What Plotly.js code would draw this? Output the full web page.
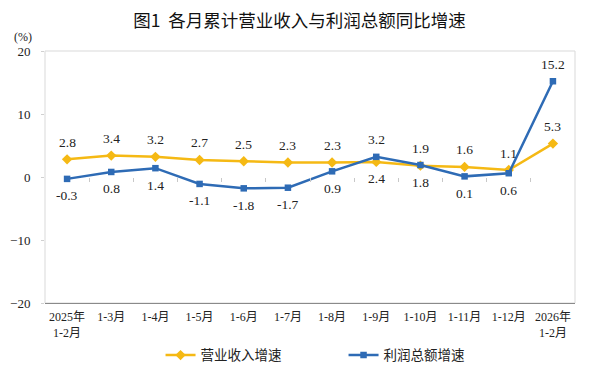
<!DOCTYPE html>
<html><head><meta charset="utf-8">
<script src="https://cdn.plot.ly/plotly-3.0.1.min.js"></script>
<style>body{margin:0;background:#fff}#c{width:593px;height:378px}</style>
</head><body><div id="c"></div>
<script>
var categories = ["2025年<br>1-2月","1-3月","1-4月","1-5月","1-6月","1-7月","1-8月","1-9月","1-10月","1-11月","1-12月","2026年<br>1-2月"];
var revenue = [2.8,3.4,3.2,2.7,2.5,2.3,2.3,2.4,1.8,1.6,1.1,5.3];
var profit = [-0.3,0.8,1.4,-1.1,-1.8,-1.7,0.9,3.2,1.9,0.1,0.6,15.2];
var revenueLabelSide = [1,1,1,1,1,1,1,-1,-1,1,1,1];
var profitLabelSide = [-1,-1,-1,-1,-1,-1,-1,1,1,-1,-1,1];
var yTicks = [20,10,0,-10,-20];

var serif = "Liberation Serif, 'Noto Sans CJK SC', serif";
var cjk = "'Noto Sans CJK SC', sans-serif";
var yellow = "#F5B914", blue = "#2E6BB5";
var idx = categories.map(function(_, i){ return i; });
var boundaries = idx.slice(0, idx.length - 1).map(function(i){ return i + 0.5; });

var traces = [
  {x: idx, y: revenue, name: "营业收入增速", type: "scatter", mode: "lines+markers",
   line: {color: yellow, width: 2.5}, marker: {symbol: "diamond", size: 8, color: yellow}},
  {x: idx, y: profit, name: "利润总额增速", type: "scatter", mode: "lines+markers",
   line: {color: blue, width: 2.5}, marker: {symbol: "square", size: 6.5, color: blue}},
  // invisible trace so xaxis2 exists for the category boundary ticks on the zero line
  {x: boundaries, y: boundaries.map(function(){ return 0; }), xaxis: "x2", yaxis: "y",
   type: "scatter", mode: "markers", marker: {opacity: 0}, showlegend: false, hoverinfo: "skip"}
];

var annotations = [];
function addLabels(vals, sides){
  vals.forEach(function(v, i){
    annotations.push({x: i, y: v, xref: "x", yref: "y", text: v.toFixed(1), showarrow: false,
      xanchor: "center", yanchor: "middle",
      yshift: sides[i] * 17, font: {family: serif, size: 13.5, color: "#222"}});
  });
}
addLabels(revenue, revenueLabelSide);
addLabels(profit, profitLabelSide);
annotations.push({x: -0.041, y: 1.055, xref: "paper", yref: "paper", xanchor: "center", yanchor: "middle",
  text: "(%)", showarrow: false, font: {family: serif, size: 12, color: "#222"}});

var layout = {
  width: 593, height: 378,
  margin: {l: 45, r: 18, t: 51, b: 75},
  paper_bgcolor: "#fff", plot_bgcolor: "#fff",
  title: {text: "图1  各月累计营业收入与利润总额同比增速", x: 0.505, xanchor: "center", y: 0.945, yanchor: "middle",
    font: {family: cjk, size: 17.5, color: "#111"}},
  xaxis: {range: [-0.5, 11.5], tickvals: idx, ticktext: categories, showgrid: false, zeroline: false,
    showline: true, linecolor: "#8a8a8a", linewidth: 1, ticks: "", ticklabelstandoff: 3,
    tickfont: {family: serif, size: 12, color: "#222"}},
  xaxis2: {range: [-0.5, 11.5], overlaying: "x", anchor: "free", position: 0.5, showgrid: false, zeroline: false,
    showline: false, ticks: "outside", ticklen: 4, tickcolor: "#c8c8c8", tickvals: boundaries,
    showticklabels: false},
  yaxis: {range: [-20, 20], tickvals: yTicks, showgrid: false, zeroline: false, showline: false,
    ticks: "outside", ticklen: 3, tickcolor: "#d0d0d0", ticklabelstandoff: 8,
    tickfont: {family: serif, size: 13, color: "#222"}},
  shapes: [{type: "rect", xref: "paper", yref: "paper", x0: 0, x1: 1, y0: 0, y1: 1,
    line: {color: "#d9d9d9", width: 1}, layer: "below"}],
  legend: {orientation: "h", x: 0.218, xanchor: "left", yref: "container", y: 0.06, yanchor: "middle",
    entrywidth: 138, entrywidthmode: "pixels", itemwidth: 30,
    font: {family: cjk, size: 13.5, color: "#222"}},
  annotations: annotations,
  showlegend: true
};
Plotly.newPlot("c", traces, layout, {staticPlot: true});
</script></body></html>
